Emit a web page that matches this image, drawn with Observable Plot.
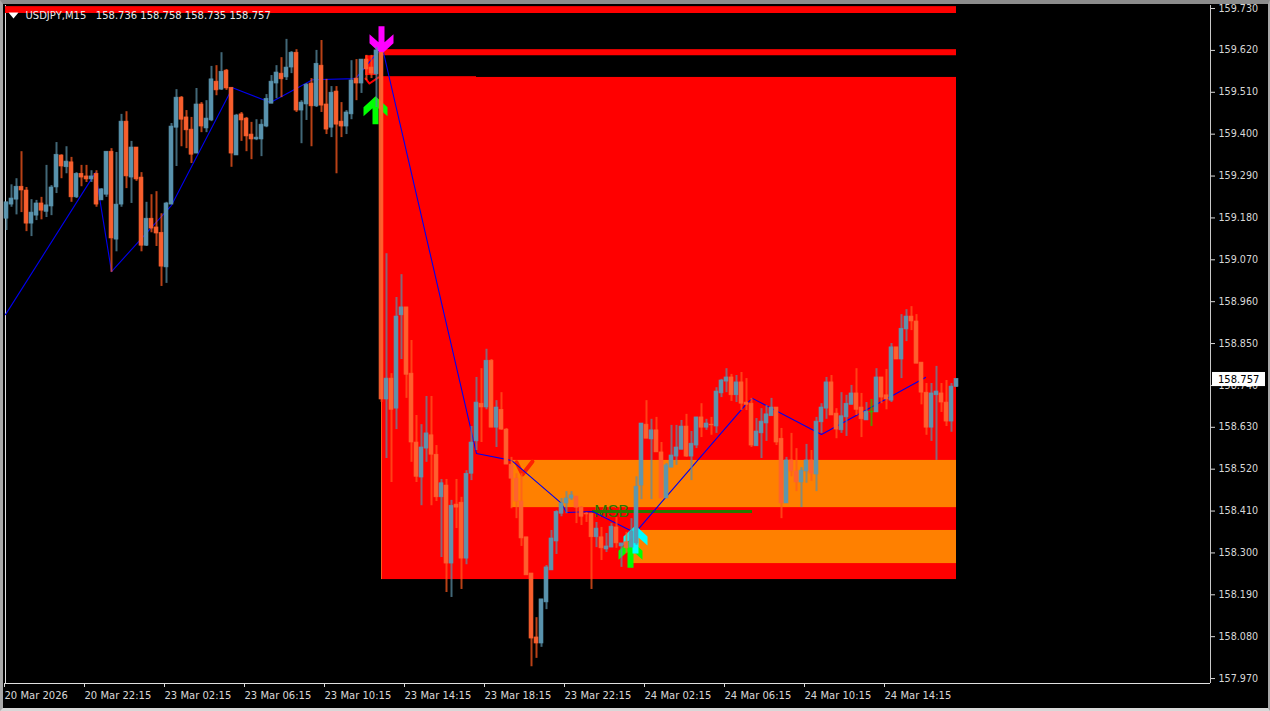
<!DOCTYPE html>
<html>
<head>
<meta charset="utf-8">
<script src="https://cdn.jsdelivr.net/npm/d3@7"></script>
<script src="https://cdn.jsdelivr.net/npm/@observablehq/plot@0.6"></script>
<style>
html,body{margin:0;padding:0;background:#000;overflow:hidden}
#wrap{position:relative;width:1270px;height:711px;background:#000}
#wrap svg{display:block}
#wrap::after{content:"";position:absolute;inset:0;box-sizing:border-box;pointer-events:none;
 border-left:3px solid #a8a8a8;border-top:4px solid #8c8c8c;border-right:2px solid #a8a8a8;border-bottom:3px solid #d8d8d8}
</style>
</head>
<body>
<div id="wrap"></div>
<script>
const opens=[159.178,159.215,159.228,159.262,159.252,159.165,159.186,159.218,159.196,159.210,159.260,159.344,159.313,159.326,159.234,159.296,159.289,159.281,159.296,159.226,159.241,159.354,159.123,159.215,159.433,159.286,159.365,159.286,159.107,159.178,159.155,159.141,159.050,159.215,159.417,159.496,159.444,159.412,159.349,159.478,159.415,159.436,159.538,159.517,159.567,159.522,159.344,159.452,159.441,159.399,159.386,159.386,159.420,159.480,159.533,159.559,159.549,159.575,159.614,159.462,159.478,159.533,159.473,159.580,159.478,159.417,159.512,159.433,159.420,159.452,159.546,159.533,159.596,159.575,159.557,159.614,
158.703,158.758,158.679,158.924,158.945,158.771,158.590,158.498,158.574,158.609,158.558,158.446,158.477,158.272,158.427,158.432,158.285,158.508,158.593,158.692,158.682,158.805,158.629,158.676,158.624,158.532,158.495,158.435,158.341,158.246,158.078,158.062,158.170,158.254,158.330,158.403,158.430,158.443,158.448,158.419,158.403,158.403,158.341,158.341,158.309,158.314,158.367,158.317,158.328,158.314,158.325,158.477,158.637,158.598,158.622,158.564,158.443,158.524,158.553,158.571,158.632,158.553,158.582,158.656,158.629,158.637,158.632,158.719,158.750,158.761,158.714,158.748,158.695,158.692,158.580,158.614,158.640,158.659,158.682,158.600,158.430,158.543,158.514,158.485,158.514,158.543,158.506,158.643,158.679,158.748,158.666,158.622,158.656,158.689,158.719,158.682,158.648,158.671,158.669,158.761,158.714,158.700,158.840,158.808,158.887,158.921,158.908,158.800,158.721,158.629,158.714,158.719,158.695,158.645,158.736];
const highs=[159.221,159.267,159.283,159.354,159.260,159.228,159.226,159.234,159.318,159.265,159.378,159.346,159.367,159.339,159.299,159.318,159.318,159.304,159.304,159.257,159.354,159.362,159.352,159.452,159.459,159.381,159.365,159.299,159.221,159.241,159.249,159.191,159.221,159.428,159.517,159.499,159.462,159.444,159.520,159.483,159.488,159.578,159.580,159.614,159.570,159.522,159.452,159.457,159.444,159.431,159.438,159.438,159.504,159.554,159.580,159.601,159.649,159.617,159.622,159.488,159.533,159.546,159.620,159.646,159.544,159.525,159.525,159.483,159.462,159.593,159.596,159.596,159.607,159.607,159.628,159.614,
159.086,158.771,158.971,159.031,158.945,158.858,158.661,158.637,158.711,158.711,158.582,158.493,158.493,158.438,158.493,158.446,158.516,158.632,158.761,158.784,158.835,158.808,158.700,158.721,158.627,158.551,158.508,158.508,158.341,158.246,158.130,158.178,158.267,158.359,158.411,158.443,158.461,158.461,158.448,158.422,158.406,158.403,158.380,158.367,158.351,158.377,158.393,158.325,158.354,158.390,158.500,158.640,158.700,158.651,158.656,158.590,158.535,158.635,158.635,158.648,158.664,158.619,158.656,158.692,158.651,158.656,158.734,158.756,158.784,158.769,158.766,158.774,158.758,158.706,158.653,158.679,158.687,158.706,158.682,158.627,158.551,158.614,158.574,158.524,158.585,158.569,158.656,158.692,158.761,158.766,158.679,158.721,158.714,158.740,158.784,158.719,158.695,158.703,158.784,158.761,158.782,158.850,158.840,158.926,158.939,158.947,158.926,158.800,158.745,158.745,158.790,158.745,158.753,158.745,158.758];
const lows=[159.147,159.208,159.188,159.194,159.144,159.131,159.173,159.175,159.181,159.186,159.244,159.283,159.296,159.221,159.231,159.262,159.273,159.273,159.208,159.226,159.234,159.037,159.091,159.208,159.257,159.218,159.276,159.091,159.105,159.141,159.105,159.000,159.008,159.215,159.315,159.367,159.362,159.323,159.349,159.404,159.404,159.433,159.501,159.515,159.515,159.313,159.344,159.381,159.354,159.333,159.383,159.341,159.417,159.480,159.493,159.496,159.541,159.559,159.457,159.375,159.436,159.367,159.470,159.457,159.399,159.391,159.296,159.391,159.399,159.438,159.488,159.507,159.541,159.546,159.470,158.695,
158.548,158.485,158.624,158.808,158.706,158.538,158.485,158.424,158.538,158.424,158.435,158.288,158.196,158.183,158.364,158.204,158.269,158.490,158.569,158.590,158.676,158.629,158.577,158.622,158.532,158.416,158.390,158.317,158.241,158.001,158.023,158.052,158.151,158.254,158.296,158.395,158.403,158.438,158.377,158.372,158.380,158.204,158.314,158.280,158.301,158.314,158.312,158.262,158.298,158.314,158.320,158.440,158.600,158.440,158.564,158.443,158.443,158.524,158.530,158.571,158.551,158.490,158.574,158.603,158.622,158.609,158.614,158.708,158.721,158.698,158.695,158.674,158.674,158.577,158.580,158.548,158.593,158.659,158.582,158.390,158.430,158.500,158.461,158.419,158.483,158.488,158.461,158.614,158.651,158.661,158.600,158.614,158.606,158.689,158.661,158.603,158.648,158.632,158.669,158.692,158.676,158.695,158.808,158.758,158.855,158.884,158.797,158.689,158.609,158.593,158.543,158.669,158.632,158.617,158.735];
const closes=[159.221,159.231,159.262,159.252,159.165,159.194,159.218,159.199,159.213,159.260,159.346,159.315,159.328,159.234,159.296,159.286,159.281,159.289,159.215,159.255,159.354,159.126,159.215,159.433,159.289,159.365,159.281,159.107,159.178,159.152,159.139,159.052,159.218,159.420,159.496,159.438,159.410,159.346,159.478,159.420,159.441,159.544,159.515,159.564,159.520,159.349,159.449,159.436,159.394,159.386,159.391,159.425,159.493,159.538,159.562,159.544,159.575,159.614,159.462,159.483,159.530,159.473,159.585,159.475,159.412,159.509,159.425,159.420,159.457,159.541,159.533,159.596,159.570,159.559,159.620,158.703,
158.758,158.676,158.921,158.945,158.768,158.590,158.500,158.577,158.614,158.558,158.446,158.483,158.272,158.424,158.419,158.285,158.508,158.590,158.695,158.682,158.805,158.629,158.682,158.624,158.532,158.495,158.435,158.338,158.241,158.075,158.062,158.178,158.262,158.338,158.408,158.430,158.443,158.451,158.419,158.395,158.401,158.341,158.364,158.312,158.317,158.369,158.325,158.325,158.312,158.356,158.474,158.640,158.600,158.622,158.564,158.443,158.530,158.556,158.577,158.632,158.553,158.587,158.656,158.629,158.640,158.635,158.724,158.753,158.761,158.714,158.748,158.692,158.689,158.582,158.619,158.645,158.664,158.682,158.590,158.430,158.543,158.514,158.485,158.516,158.543,158.508,158.645,158.682,158.748,158.661,158.624,158.659,158.692,158.719,158.676,158.651,158.671,158.669,158.761,158.708,158.703,158.840,158.808,158.889,158.921,158.908,158.797,158.721,158.629,158.719,158.724,158.695,158.645,158.737,158.757];
const specialBars=[173];

const xTicks=[0,16,32,48,64,80,96,112,128,144,160,176];
const xLabels=["20 Mar 2026","20 Mar 22:15","23 Mar 02:15","23 Mar 06:15","23 Mar 10:15","23 Mar 14:15","23 Mar 18:15","23 Mar 22:15","24 Mar 02:15","24 Mar 06:15","24 Mar 10:15","24 Mar 14:15"];
const yTicks=[159.73,159.62,159.51,159.40,159.29,159.18,159.07,158.96,158.85,158.74,158.63,158.52,158.41,158.30,158.19,158.08,157.97];

const zoneLeft=[-0.2,75,75,101,125.4];
const zoneRight=[190,190,94,190,190];
const zoneTop=[159.735,159.622,159.551,158.543,158.359];
const zoneBottom=[159.717,159.606,159.546,158.419,158.272];
const zoneFill=["#ff0000","#ff0000","#ff0000","#ff8000","#ff8000"];
const bigZone={x1:75,x2:190,y1:158.230,y2:159.549};

const zigBar=[-0.2,17.8,21,33,45.2,52.8,61.2,69.8,74.2,75.4,94,101,111,112,117.2,124.8,125.8,148.2,149.2,163,183.8];
const zigPrice=[158.926,159.299,159.039,159.213,159.522,159.483,159.543,159.546,159.614,159.614,158.561,158.543,158.430,158.406,158.409,158.359,158.354,158.695,158.706,158.611,158.761];

const arrowBar=[75,73.8,124.8,125.8];
const arrowPrice=[159.647,159.463,158.298,158.335];
const arrowColor=["#ff00ff","#00ff00","#00ff00","#00ffff"];
const arrowDir=["down","up","up","up"];

const bars=opens.map((o,i)=>({i,o,h:highs[i],l:lows[i],c:closes[i],up:closes[i]>=o,special:specialBars.includes(i)}));
const zones=zoneLeft.map((x1,k)=>({x1,x2:zoneRight[k],y1:zoneBottom[k],y2:zoneTop[k],fill:zoneFill[k]}));
const zig=zigBar.map((x,k)=>({x,y:zigPrice[k]}));
const arrows=arrowBar.map((x,k)=>({x,y:arrowPrice[k],c:arrowColor[k],d:arrowDir[k]}));

function poly(ctx,pts){ctx.moveTo(pts[0][0],pts[0][1]);for(const p of pts.slice(1))ctx.lineTo(p[0],p[1]);ctx.closePath();}
const upShape=[[0,-14],[12,-3],[12,6],[3,-2],[3,14],[-3,14],[-3,-2],[-12,6],[-12,-3]];
const upArrow={draw(ctx){poly(ctx,upShape);}};
const downArrow={draw(ctx){poly(ctx,upShape.map(([a,b])=>[a,-b]));}};
const tri={draw(ctx){poly(ctx,[[-5,-3],[5,-3],[0,3]]);}};

const bullBody="#5c97b2",bearBody="#ff6230",bullWick="#5a8fa5",bearWick="#ff5a1e",green="#22c000";
const wickCol=d=>d.special?green:(d.up?bullWick:bearWick);
const bodyCol=d=>d.special?green:(d.up?bullBody:bearBody);
const FONT='"DejaVu Sans"';

const chart=Plot.plot({
 width:1270,height:711,marginLeft:5,marginRight:60,marginTop:5,marginBottom:28,
 style:{background:"#000",fontFamily:FONT,fontSize:"10px",color:"#d8d8d8"},
 x:{type:"linear",domain:[-0.2,240.8],axis:null},
 y:{type:"linear",domain:[157.957,159.738],axis:null},
 marks:[
  Plot.axisY({anchor:"right",ticks:yTicks,tickFormat:d=>d.toFixed(3),tickSize:4,tickPadding:4,label:null,fill:"#d8d8d8",stroke:"#d8d8d8",fontSize:9.6}),
  Plot.axisX({anchor:"bottom",ticks:xTicks,tickFormat:d=>xLabels[xTicks.indexOf(d)],tickSize:4,tickPadding:4,label:null,fill:"#d8d8d8",stroke:"#d8d8d8",textAnchor:"start",dx:-2,fontSize:10}),
  Plot.ruleX([-0.2],{stroke:"#e0e0e0"}),
  Plot.ruleX([240.8],{stroke:"#c8c8c8"}),
  Plot.ruleY([157.957],{stroke:"#e0e0e0"}),
  Plot.rect([bigZone],{x1:"x1",x2:"x2",y1:"y1",y2:"y2",fill:"#ff0000"}),
  Plot.rect(zones,{x1:"x1",x2:"x2",y1:"y1",y2:"y2",fill:"fill"}),
  Plot.ruleX([75],{y1:158.230,y2:158.695,stroke:"#ff5a1e"}),
  Plot.rect([{x1:71.8,x2:74.2,y1:159.554,y2:159.606}],{x1:"x1",x2:"x2",y1:"y1",y2:"y2",fill:"#ff0000"}),
  Plot.line([{x:71.8,y:159.546},{x:72.6,y:159.533},{x:74.4,y:159.549}],{x:"x",y:"y",stroke:"#ff0000",strokeWidth:2}),
  Plot.line([{x:102,y:158.538},{x:103.2,y:158.506},{x:105.2,y:158.540}],{x:"x",y:"y",stroke:"#ff2000",strokeWidth:4}),
  Plot.ruleY([158.409],{x1:117.2,x2:149.2,stroke:"#267a00",strokeWidth:3}),
  Plot.text(["MSB"],{x:121,y:158.409,textAnchor:"middle",fill:"#267a00",fontFamily:"Liberation Sans",fontSize:16}),
  Plot.line(zig,{x:"x",y:"y",stroke:"#0000f0",strokeWidth:1.1,curve:"linear"}),
  Plot.dot(arrows.filter(d=>d.d==="down"),{x:"x",y:"y",symbol:downArrow,fill:"c",stroke:"none"}),
  Plot.dot(arrows.filter(d=>d.d==="up"),{x:"x",y:"y",symbol:upArrow,fill:"c",stroke:"none"}),
  Plot.ruleX(bars,{x:"i",y1:"l",y2:"h",stroke:wickCol,strokeWidth:2,strokeOpacity:0.72}),
  Plot.rect(bars,{x1:d=>d.i-0.4,x2:d=>d.i+0.4,y1:"o",y2:"c",fill:bodyCol,stroke:bodyCol,strokeWidth:0.6,opacity:0.94}),
  Plot.dot([{x:1.4,y:159.712}],{x:"x",y:"y",symbol:tri,fill:"#ffffff",stroke:"none"}),
  Plot.text(["USDJPY,M15   158.736 158.758 158.735 158.757"],{frameAnchor:"top-left",dx:20,dy:6,lineAnchor:"top",textAnchor:"start",fill:"#e8e8e8",fontSize:10}),
  Plot.rect([{x1:241.2,x2:251.8,y1:158.737,y2:158.774}],{x1:"x1",x2:"x2",y1:"y1",y2:"y2",fill:"#ffffff"}),
  Plot.text(["158.757"],{x:242.3,y:158.756,textAnchor:"start",fill:"#000",fontSize:10})
 ]
});
document.getElementById("wrap").appendChild(chart);
</script>
</body>
</html>
